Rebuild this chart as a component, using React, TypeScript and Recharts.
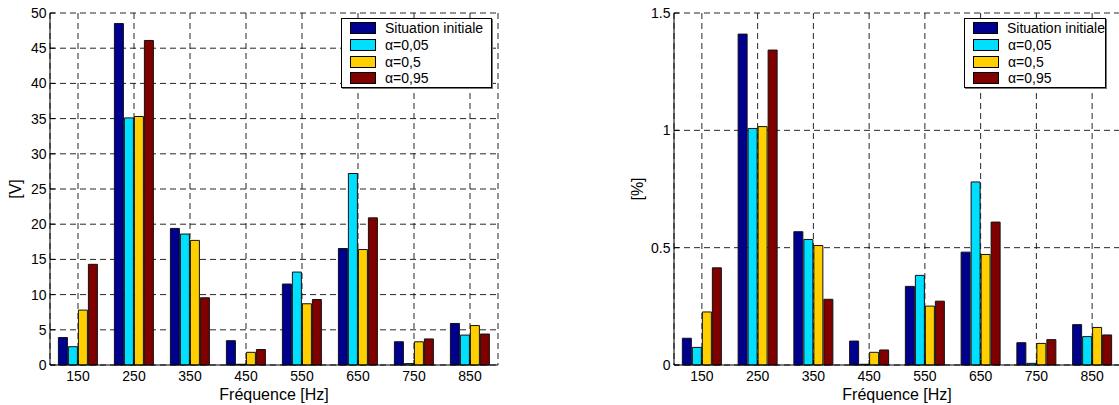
import React from 'react';
import { BarChart, Bar, XAxis, YAxis, CartesianGrid, Legend, Label, ReferenceArea } from 'recharts';

const categories = ['150', '250', '350', '450', '550', '650', '750', '850'];
const seriesNames = ['Situation initiale', 'α=0,05', 'α=0,5', 'α=0,95'];
const seriesColors = ['#00008F', '#00DFFF', '#FFCF00', '#800000'];
const seriesKeys = ['s0', 's1', 's2', 's3'];

const voltInitial = [3.9, 48.5, 19.4, 3.45, 11.5, 16.55, 3.3, 5.9];
const voltA005 = [2.6, 35.1, 18.6, 0.1, 13.2, 27.2, 0.2, 4.25];
const voltA05 = [7.8, 35.3, 17.7, 1.8, 8.7, 16.4, 3.3, 5.6];
const voltA095 = [14.3, 46.1, 9.55, 2.2, 9.3, 20.9, 3.7, 4.4];

const pctInitial = [0.114, 1.41, 0.568, 0.102, 0.335, 0.481, 0.095, 0.172];
const pctA005 = [0.075, 1.008, 0.535, 0.003, 0.382, 0.78, 0.007, 0.121];
const pctA05 = [0.226, 1.016, 0.509, 0.054, 0.251, 0.471, 0.092, 0.16];
const pctA095 = [0.414, 1.342, 0.28, 0.064, 0.272, 0.609, 0.108, 0.128];

const voltTicks = [0, 5, 10, 15, 20, 25, 30, 35, 40, 45, 50];
const pctTicks = [0, 0.5, 1, 1.5];
const xLabel = 'Fréquence [Hz]';
const voltLabel = '[V]';
const pctLabel = '[%]';

const build = (series: number[][]) =>
  categories.map((c, i) => {
    const row: Record<string, string | number> = { cat: c };
    series.forEach((s, k) => {
      row[seriesKeys[k]] = s[i];
    });
    return row;
  });

const voltData = build([voltInitial, voltA005, voltA05, voltA095]);
const pctData = build([pctInitial, pctA005, pctA05, pctA095]);

const FONT = '"Liberation Sans", Arial, sans-serif';

const LegendBox = ({ width }: { width: number }) => (
  <div
    style={{
      width,
      height: 70,
      boxSizing: 'border-box',
      border: '1px solid #000',
      boxShadow: '1px 1px 0 #777',
      background: '#fff',
      paddingTop: 1,
      fontFamily: FONT,
    }}
  >
    {seriesNames.map((n, i) => (
      <div key={n} style={{ display: 'flex', alignItems: 'center', height: 16.7 }}>
        <span
          style={{
            display: 'inline-block',
            width: 26,
            height: 12,
            marginLeft: 8,
            background: seriesColors[i],
            border: '1px solid #000',
            boxSizing: 'border-box',
          }}
        />
        <span style={{ marginLeft: 9, fontSize: 14, lineHeight: '16px', color: '#000', whiteSpace: 'nowrap' }}>{n}</span>
      </div>
    ))}
  </div>
);

type PanelProps = {
  data: Record<string, string | number>[];
  ticks: number[];
  yLabel: string;
  width: number;
  yAxisWidth: number;
  rightMargin: number;
  legendLeft: number;
  legendWidth: number;
  yLabelX: number;
};

const Panel = ({ data, ticks, yLabel, width, yAxisWidth, rightMargin, legendLeft, legendWidth, yLabelX }: PanelProps) => {
  const domain: [number, number] = [ticks[0], ticks[ticks.length - 1]];
  return (
    <BarChart
      width={width}
      height={405}
      data={data}
      margin={{ top: 13, right: rightMargin, bottom: 0, left: 0 }}
      barCategoryGap="15%"
      barGap={1}
      style={{ fontFamily: FONT }}
    >
      <CartesianGrid xAxisId="bottom" yAxisId="left" stroke="#000" strokeOpacity={0.85} strokeDasharray="6 4" />
      <XAxis
        xAxisId="bottom"
        dataKey="cat"
        height={40}
        axisLine={{ stroke: '#000' }}
        tickLine={{ stroke: '#000' }}
        tickSize={-5}
        tickMargin={11}
        tick={{ fill: '#000', fontSize: 14 }}
        interval={0}
      >
        <Label
          content={(p: any) => {
            const vb = p.viewBox;
            return (
              <text x={vb.x + vb.width / 2} y={vb.y + 35} textAnchor="middle" fontSize={16} fill="#000" fontFamily={FONT}>
                {xLabel}
              </text>
            );
          }}
        />
      </XAxis>
      <YAxis
        yAxisId="left"
        type="number"
        domain={domain}
        ticks={ticks}
        width={yAxisWidth}
        axisLine={{ stroke: '#000' }}
        tickLine={{ stroke: '#000' }}
        tickSize={-5}
        tickMargin={8.5}
        tick={{ fill: '#000', fontSize: 14 }}
        interval={0}
      >
        <Label
          content={() => (
            <text
              x={yLabelX}
              y={189}
              transform={`rotate(-90 ${yLabelX} 189)`}
              textAnchor="middle"
              dominantBaseline="central"
              fontSize={16}
              fill="#000"
              fontFamily={FONT}
            >
              {yLabel}
            </text>
          )}
        />
      </YAxis>
      <Legend
        layout="vertical"
        align="center"
        verticalAlign="middle"
        wrapperStyle={{ left: legendLeft, top: 18, right: 'auto', bottom: 'auto', width: legendWidth, height: 70 }}
        content={() => <LegendBox width={legendWidth} />}
      />
      {seriesKeys.map((k, i) => (
        <Bar
          key={k}
          dataKey={k}
          name={seriesNames[i]}
          xAxisId="bottom"
          yAxisId="left"
          fill={seriesColors[i]}
          stroke="#111"
          strokeWidth={1}
          isAnimationActive={false}
        />
      ))}
      <ReferenceArea
        xAxisId="bottom"
        yAxisId="left"
        fill="none"
        fillOpacity={0}
        stroke="#000"
        strokeWidth={1}
        ifOverflow="visible"
      />
    </BarChart>
  );
};

export default function App() {
  return (
    <div style={{ position: 'absolute', left: 0, top: 0, width: 1119, height: 405, overflow: 'hidden', background: '#fff' }}>
      <div style={{ position: 'absolute', left: 0, top: 0 }}>
        <Panel
          data={voltData}
          ticks={voltTicks}
          yLabel={voltLabel}
          width={520}
          yAxisWidth={50}
          rightMargin={22}
          legendLeft={341}
          legendWidth={151}
          yLabelX={15}
        />
      </div>
      <div style={{ position: 'absolute', left: 600, top: 0 }}>
        <Panel
          data={pctData}
          ticks={pctTicks}
          yLabel={pctLabel}
          width={520}
          yAxisWidth={74}
          rightMargin={0}
          legendLeft={364}
          legendWidth={142}
          yLabelX={37.5}
        />
      </div>
    </div>
  );
}
